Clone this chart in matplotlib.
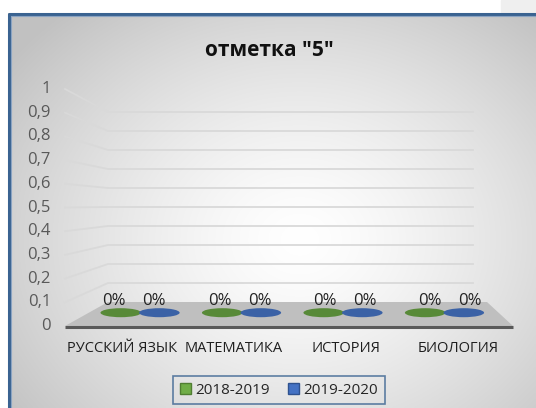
import numpy as np
import matplotlib.pyplot as plt
from matplotlib.patches import Ellipse, Polygon, Rectangle

plt.rcParams['font.family'] = ['Open Sans', 'DejaVu Sans']

# данные диаграммы
categories = ['РУССКИЙ ЯЗЫК', 'МАТЕМАТИКА', 'ИСТОРИЯ', 'БИОЛОГИЯ']
series_names = ['2018-2019', '2019-2020']
values_2018_2019 = [0, 0, 0, 0]
values_2019_2020 = [0, 0, 0, 0]
y_ticks = [0, 0.1, 0.2, 0.3, 0.4, 0.5, 0.6, 0.7, 0.8, 0.9, 1]
y_tick_labels = ['0', '0,1', '0,2', '0,3', '0,4', '0,5', '0,6', '0,7', '0,8', '0,9', '1']
title = 'отметка "5"'

fill_colors = ['#70ad47', '#4472c4']
top_colors = ['#588a38', '#3b62a6']
edge_colors = ['#507e32', '#2f528f']

# псевдо-3D геометрия (пиксели)
FRONT_L, FRONT_R, FRONT_Y, FRONT_H = 65, 513, 326, 237
BACK_L, BACK_R, BACK_Y, BACK_H = 108, 480, 302, 190
WALL_R = 473
FLOOR_BR = 487


def proj(u, d, v):
    """u: 0..1 по ширине, d: 0 (перед) .. 1 (зад), v: значение"""
    left = FRONT_L + (BACK_L - FRONT_L) * d
    right = FRONT_R + (BACK_R - FRONT_R) * d
    y0 = FRONT_Y + (BACK_Y - FRONT_Y) * d
    h = FRONT_H + (BACK_H - FRONT_H) * d
    return left + u * (right - left), y0 - v * h


fig = plt.figure(figsize=(5.36, 4.08), dpi=100)
ax = fig.add_axes([0, 0, 1, 1])
ax.set_xlim(0, 536)
ax.set_ylim(408, 0)
ax.axis('off')

# фон: радиальный градиент
gx, gy = np.meshgrid(np.linspace(8, 536, 264), np.linspace(13, 408, 198))
r = np.sqrt(((gx - 300) / 290) ** 2 + ((gy - 240) / 240) ** 2)
shade = 1 - 0.24 * np.clip(r / 1.25, 0, 1) ** 1.4
img = np.dstack([shade, shade, shade])
ax.imshow(img, extent=(8, 536, 408, 13), interpolation='bilinear', zorder=0, aspect='auto')

# рамка
ax.plot([9, 9, 540], [412, 14, 14], color='#3a6391', lw=2.2, zorder=5, solid_capstyle='butt')
ax.plot([10.5, 10.5, 540], [412, 15.5, 15.5], color='#8aa3c2', lw=0.8, zorder=5)
ax.add_patch(Rectangle((501, 0), 35, 12.8, color='#efefef', zorder=1))

# стенки: линии сетки
for v in y_ticks[1:]:
    x0, y0 = proj(0, 0, v)
    x1, y1 = proj(0, 1, v)
    ax.plot([x0, x1, WALL_R], [y0, y1, y1], color='#d9d9d9', lw=1.3, zorder=2)

# пол
fl = [proj(0, 0, 0), proj(1, 0, 0), (FLOOR_BR, BACK_Y), proj(0, 1, 0)]
ax.add_patch(Polygon(fl, closed=True, facecolor='#bfbfbf', edgecolor='none', zorder=2))
fx0, fy0 = proj(0, 0, 0)
fx1, fy1 = proj(1, 0, 0)
ax.plot([fx0, fx1], [fy0 + 0.5, fy1 + 0.5], color='#595959', lw=2.2, zorder=3,
        solid_capstyle='butt')

# подписи оси Y
for v, lab in zip(y_ticks, y_tick_labels):
    x, y = proj(0, 0, v)
    ax.text(x - 14, y, lab, ha='right', va='center', fontsize=12, color='#595959', zorder=4)

# цилиндры (при нулевых значениях видны только основания)
n = len(categories)
offsets = [-0.19, 0.19]
BAR_DEPTH = 0.554
LABEL_DEPTH = 0.35
for j, vals in enumerate([values_2018_2019, values_2019_2020]):
    for i, v in enumerate(vals):
        u = (i + 0.5 + offsets[j]) / n
        cx, cy = proj(u, BAR_DEPTH, 0)
        lx, rx = proj(0, BAR_DEPTH, 0)[0], proj(1, BAR_DEPTH, 0)[0]
        w = 0.4 * (rx - lx) / n
        _, ty = proj(u, BAR_DEPTH, v)
        if v > 0:
            ax.add_patch(Rectangle((cx - w / 2, ty), w, cy - ty, facecolor=fill_colors[j],
                                   edgecolor='none', zorder=6 + i))
            ax.add_patch(Ellipse((cx, cy), w, 9, facecolor=fill_colors[j], edgecolor='none',
                                 zorder=6 + i))
        ax.add_patch(Ellipse((cx + 0.5, ty), w, 9, facecolor=top_colors[j], edgecolor='none',
                             zorder=6 + i + j * 0.5))
        # подпись значения
        tx, tyl = proj(u, LABEL_DEPTH, v)
        ax.text(tx + 1.5, tyl - 17, f'{v:.0%}', ha='center', va='center', fontsize=12,
                color='#222222', zorder=10)

# подписи категорий
for i, cat in enumerate(categories):
    x, y = proj((i + 0.5) / n, 0, 0)
    ax.text(x + 1, y + 22, cat, ha='center', va='center', fontsize=10.5, color='#1f1f1f',
            zorder=4)

# заголовок
ax.text(269, 50, title, ha='center', va='center', fontsize=15, fontweight='bold',
        color='#111111', zorder=4)

# легенда
handles = [Rectangle((0, 0), 1, 1, facecolor=fill_colors[k], edgecolor=edge_colors[k], lw=1)
           for k in range(2)]
leg = ax.legend(handles, series_names, loc='center', bbox_to_anchor=(279, 390),
                bbox_transform=ax.transData, ncol=2, frameon=True, fancybox=False,
                edgecolor='#3a6391', facecolor='none', fontsize=11, handlelength=0.7,
                handleheight=0.7, handletextpad=0.3, columnspacing=1.2, borderpad=0.45,
                borderaxespad=0)
leg.get_frame().set_linewidth(1.2)
for t in leg.get_texts():
    t.set_color('#262626')

fig.savefig('out.png', dpi=100)
